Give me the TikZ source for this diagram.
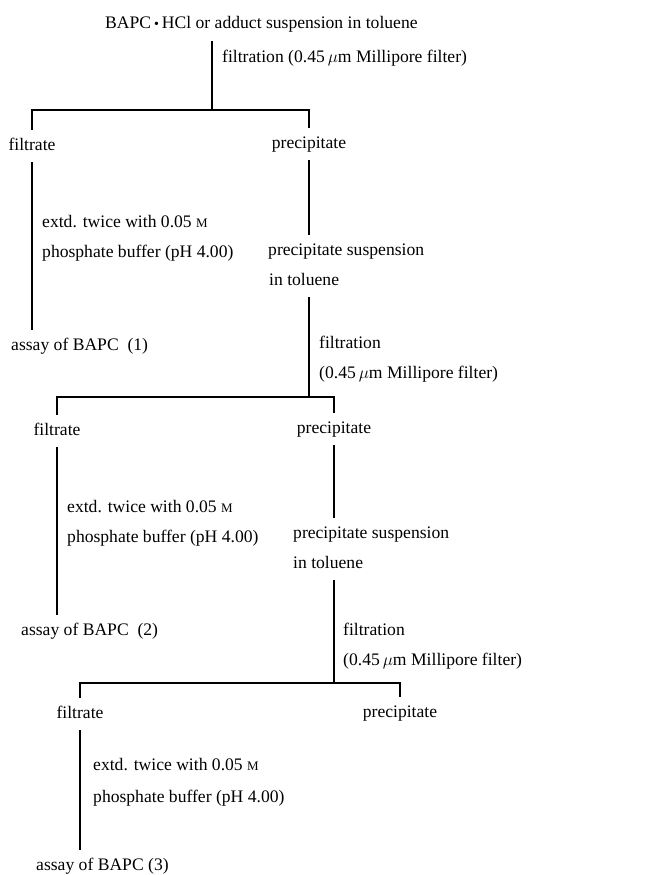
\documentclass[tikz,border=0pt]{standalone}
\usepackage{fontspec}
\setmainfont{Liberation Serif}
\usetikzlibrary{positioning}
\newcommand{\molar}{{\fontsize{13}{13}\selectfont M}}
\newcommand{\dotsep}{\,{\fontsize{14}{14}\selectfont\textbullet}\,}
\tikzset{txt/.style={anchor=base west, inner xsep=0pt, inner ysep=8pt, text height=12pt, text depth=4pt, font=\fontsize{17.6}{20}\selectfont}}
\tikzset{stem/.style={txt, anchor=base}}
\tikzset{branch/.style={line width=1.1pt}}

\begin{document}
\begin{tikzpicture}[x=1pt, y=-1pt]
	\useasboundingbox (0,0) rectangle (649,875);
	% Nodes
	\node (sample) [txt] at (105,29) {BAPC\dotsep HCl or adduct suspension in toluene};
	\node (filtration1) [txt] at (222,63) {filtration (0.45\,$\mu$m Millipore filter)};

	\node (filtrate1) [stem] at (32,150) {filtrate};
	\node (precipitate1) [stem] at (309,148) {precipitate};
	\node (extract1) [txt] at (42,227) {extd. twice with 0.05 \molar};
	\node (buffer1) [txt] at (42,257) {phosphate buffer (pH 4.00)};
	\node (suspension1) [txt] at (268,255) {precipitate suspension};
	\node (toluene1) [txt] at (269,285) {in toluene};
	\node (assay1) [txt] at (11,350) {assay of BAPC~~(1)};
	\node (filtration2) [txt] at (319,348) {filtration};
	\node (filter2) [txt] at (319,378) {(0.45\,$\mu$m Millipore filter)};

	\node (filtrate2) [stem] at (57,435) {filtrate};
	\node (precipitate2) [stem] at (334,433) {precipitate};
	\node (extract2) [txt] at (67,512) {extd. twice with 0.05 \molar};
	\node (buffer2) [txt] at (67,542) {phosphate buffer (pH 4.00)};
	\node (suspension2) [txt] at (293,538) {precipitate suspension};
	\node (toluene2) [txt] at (293,568) {in toluene};
	\node (assay2) [txt] at (21,635) {assay of BAPC~~(2)};
	\node (filtration3) [txt] at (343,635) {filtration};
	\node (filter3) [txt] at (343,665) {(0.45\,$\mu$m Millipore filter)};

	\node (filtrate3) [stem] at (80,718) {filtrate};
	\node (precipitate3) [stem] at (400,717) {precipitate};
	\node (extract3) [txt] at (93,770) {extd. twice with 0.05 \molar};
	\node (buffer3) [txt] at (93,802) {phosphate buffer (pH 4.00)};
	\node (assay3) [txt] at (36,870) {assay of BAPC (3)};

	\coordinate (split1) at (212,110);
	\coordinate (split2) at (309,397);
	\coordinate (split3) at (334,683);

	% Connectors
	\begin{scope}[branch]
	\draw (sample.south -| split1) -- (split1);
	\draw (filtrate1.north) |- (split1) -| (precipitate1.north);
	\draw (filtrate1.south) -- (filtrate1.south |- assay1.north);
	\draw (precipitate1.south) -- (precipitate1.south |- suspension1.north);

	\draw (toluene1.south -| split2) -- (split2);
	\draw (filtrate2.north) |- (split2) -| (precipitate2.north);
	\draw (filtrate2.south) -- (filtrate2.south |- assay2.north);
	\draw (precipitate2.south) -- (precipitate2.south |- suspension2.north);

	\draw (toluene2.south -| split3) -- (split3);
	\draw (filtrate3.north) |- (split3) -| (precipitate3.north);
	\draw (filtrate3.south) -- (filtrate3.south |- assay3.north);
	\end{scope}

\end{tikzpicture}
\end{document}
